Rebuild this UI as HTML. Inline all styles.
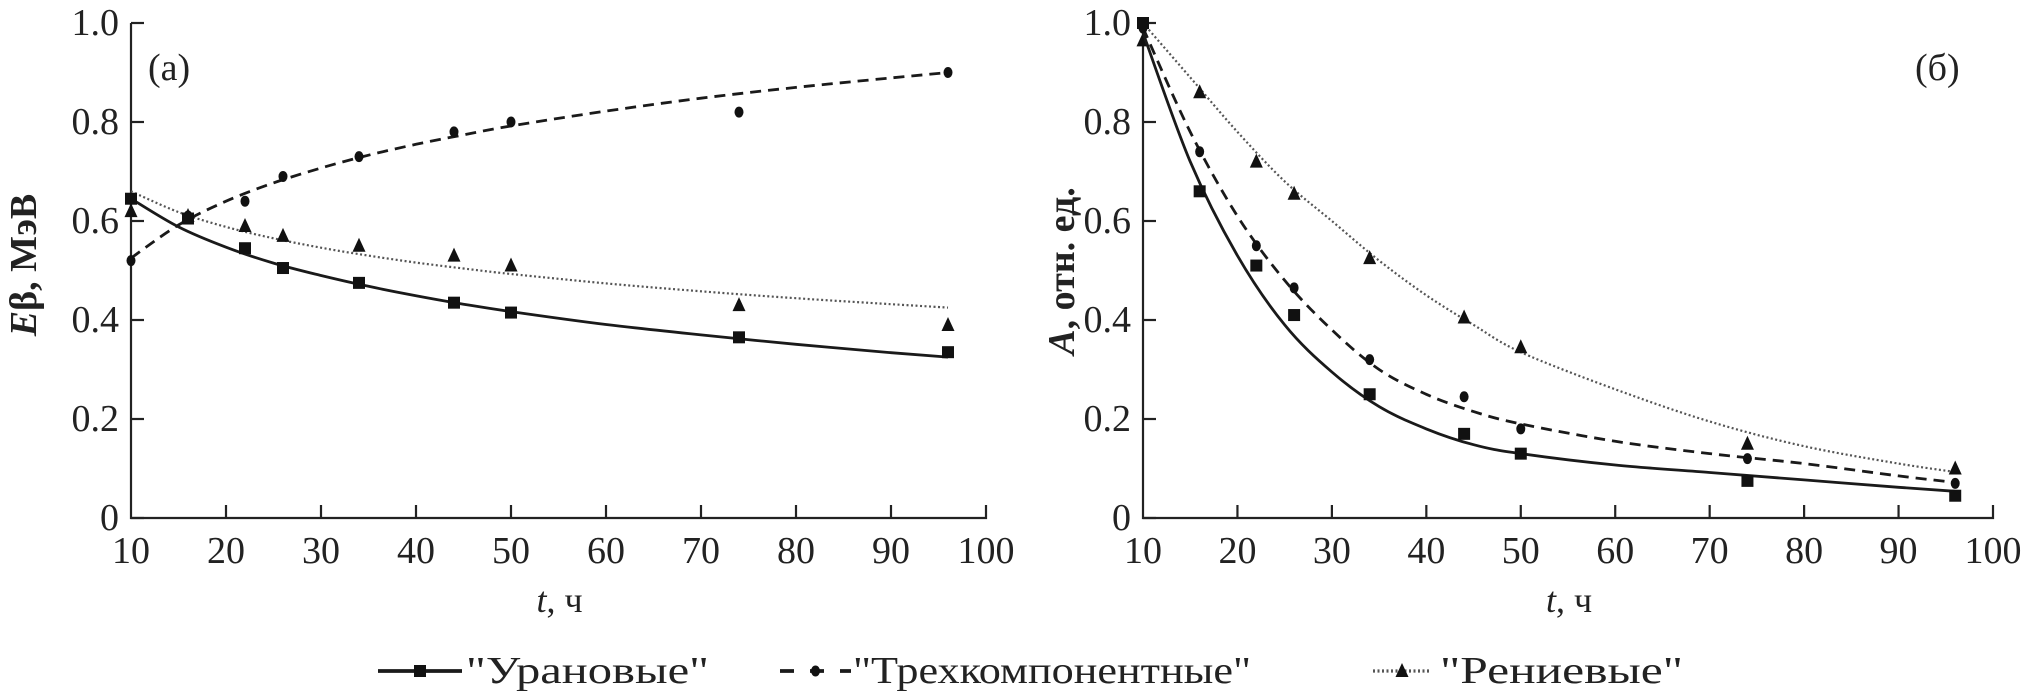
<!DOCTYPE html>
<html><head><meta charset="utf-8">
<style>
html,body{margin:0;padding:0;background:#fff;}
svg{display:block;font-family:"Liberation Serif","DejaVu Serif",serif;}
</style></head>
<body>
<svg id="chart" width="2022" height="696" viewBox="0 0 2022 696" xmlns="http://www.w3.org/2000/svg">
  <g id="panelA"></g>
  <g id="panelB"></g>
  <g id="legend"></g>
</svg>
<script>
const timesH = [10, 16, 22, 26, 34, 44, 50, 74, 96];
const xTicks = [10, 20, 30, 40, 50, 60, 70, 80, 90, 100];
const yTicks = [0, 0.2, 0.4, 0.6, 0.8, 1.0];
const yTickLabels = ["0", "0.2", "0.4", "0.6", "0.8", "1.0"];
// Panel (a) Eβ, MeV
const energyUranium = [0.645, 0.605, 0.545, 0.505, 0.475, 0.435, 0.415, 0.365, 0.335];
const energyTri = [0.52, 0.61, 0.64, 0.69, 0.73, 0.78, 0.80, 0.82, 0.90];
const energyRhenium = [0.62, 0.61, 0.59, 0.57, 0.55, 0.53, 0.51, 0.43, 0.39];
// fitted trend curves
const fitGrid = [10, 15, 20, 25, 30, 35, 40, 45, 50, 60, 70, 80, 90, 96];
const energyFitUranium = [0.645, 0.588, 0.547, 0.515, 0.490, 0.468, 0.449, 0.432, 0.417, 0.391, 0.370, 0.351, 0.334, 0.325];
const energyFitTri = [0.525, 0.592, 0.640, 0.677, 0.707, 0.733, 0.755, 0.774, 0.792, 0.822, 0.848, 0.870, 0.889, 0.900];
const energyFitRhenium = [0.66, 0.618, 0.588, 0.565, 0.546, 0.530, 0.516, 0.504, 0.493, 0.474, 0.458, 0.444, 0.432, 0.425];
// Panel (б) A, rel. units
const actUranium = [1.0, 0.66, 0.51, 0.41, 0.25, 0.17, 0.13, 0.075, 0.045];
const actTri = [0.99, 0.74, 0.55, 0.465, 0.32, 0.245, 0.18, 0.12, 0.07];
const actRhenium = [0.965, 0.86, 0.72, 0.655, 0.525, 0.405, 0.345, 0.15, 0.10];
const actFitUranium = [0.98, 0.72, 0.53, 0.39, 0.295, 0.225, 0.18, 0.148, 0.13, 0.107, 0.092, 0.077, 0.062, 0.054];
const actFitTri = [0.99, 0.78, 0.61, 0.48, 0.38, 0.30, 0.25, 0.215, 0.19, 0.155, 0.13, 0.11, 0.085, 0.072];
const actFitRhenium = [1.0, 0.89, 0.78, 0.68, 0.60, 0.52, 0.45, 0.39, 0.335, 0.26, 0.195, 0.145, 0.11, 0.093];

const NS = "http://www.w3.org/2000/svg";
function mk(parent, tag, attrs, text) {
  const e = document.createElementNS(NS, tag);
  for (const k in attrs) e.setAttribute(k, attrs[k]);
  if (text !== undefined) e.textContent = text;
  parent.appendChild(e);
  return e;
}
function smoothPath(pts) {
  let d = "M" + pts[0][0].toFixed(1) + "," + pts[0][1].toFixed(1);
  for (let i = 0; i < pts.length - 1; i++) {
    const p0 = pts[Math.max(0, i - 1)], p1 = pts[i], p2 = pts[i + 1], p3 = pts[Math.min(pts.length - 1, i + 2)];
    const c1 = [p1[0] + (p2[0] - p0[0]) / 6, p1[1] + (p2[1] - p0[1]) / 6];
    const c2 = [p2[0] - (p3[0] - p1[0]) / 6, p2[1] - (p3[1] - p1[1]) / 6];
    d += " C" + c1[0].toFixed(1) + "," + c1[1].toFixed(1) + " " + c2[0].toFixed(1) + "," + c2[1].toFixed(1) + " " + p2[0].toFixed(1) + "," + p2[1].toFixed(1);
  }
  return d;
}
const styles = {
  uranium: {stroke: "#1a1a1a", width: 2.8, dash: null, marker: "square"},
  tri: {stroke: "#1a1a1a", width: 2.8, dash: "11,7", marker: "circle"},
  rhenium: {stroke: "#555", width: 2.2, dash: "2,2.5", marker: "triangle"}
};
function drawMarker(g, type, x, y) {
  let m;
  if (type === "square") m = mk(g, "rect", {x: x - 6, y: y - 6, width: 12, height: 12, fill: "#111"});
  else if (type === "circle") m = mk(g, "ellipse", {cx: x, cy: y, rx: 4.5, ry: 5.5, fill: "#111"});
  else m = mk(g, "polygon", {points: `${x},${y - 8} ${x - 6.5},${y + 6} ${x + 6.5},${y + 6}`, fill: "#111"});
  return m;
}
function panel(g, x0, x1, cfg) {
  const yTop = 23, yBot = 518;
  const sx = v => x0 + (v - 10) / 90 * (x1 - x0);
  const sy = v => yBot - v * (yBot - yTop);
  const ax = mk(g, "path", {d: `M${x0},${yTop} V${yBot} H${x1} V${yBot - 13}`, fill: "none", stroke: "#222", "stroke-width": 2.2});
  
  
  yTicks.forEach((v, i) => {
    const t = mk(g, "line", {x1: x0, x2: x0 + 13, y1: sy(v), y2: sy(v), stroke: "#222", "stroke-width": 2.2});
    
    
    const l = mk(g, "text", {x: x0 - 12, y: sy(v) + 12, "text-anchor": "end", "font-size": 38, fill: "#222"}, yTickLabels[i]);
    
    
  });
  xTicks.forEach(v => {
    if (v > 10 && v < 100) {
      const t = mk(g, "line", {x1: sx(v), x2: sx(v), y1: yBot, y2: yBot - 13, stroke: "#222", "stroke-width": 2.2});
      
      
    }
    const l = mk(g, "text", {x: sx(v), y: 563, "text-anchor": "middle", "font-size": 38, fill: "#222"}, String(v));
    
    
  });
  const xt = mk(g, "text", {x: (x0 + x1) / 2 + 1, y: 612, "text-anchor": "middle", "font-size": 36, fill: "#222"});
  
  
  mk(xt, "tspan", {"font-style": "italic"}, "t");
  mk(xt, "tspan", {}, ", ч");
  const yt = mk(g, "text", {x: 0, y: 0, "text-anchor": "middle", "font-size": 38, fill: "#222", transform: `translate(${cfg.ytx},${cfg.yty}) rotate(-90)`});
  
  
  mk(yt, "tspan", {"font-style": "italic", "font-weight": "bold"}, cfg.yItalic);
  mk(yt, "tspan", {"font-weight": "bold"}, cfg.yRest);
  const pl = mk(g, "text", {x: cfg.plx, y: 80, "font-size": 38, fill: "#222"}, cfg.label);
  
  
  cfg.series.forEach(s => {
    const st = styles[s.key];
    const pts = fitGrid.map((t, i) => [sx(t), sy(s.fit[i])]);
    const p = mk(g, "path", {d: smoothPath(pts), fill: "none", stroke: st.stroke, "stroke-width": st.width});
    if (st.dash) p.setAttribute("stroke-dasharray", st.dash);
    
    
    timesH.forEach((t, i) => {
      const m = drawMarker(g, st.marker, sx(t), sy(s.vals[i]));
      
      
    });
  });
}
panel(document.getElementById("panelA"), 131, 986, {
  ytx: 36, yty: 265, yItalic: "E", yRest: "β, МэВ", plx: 148, label: "(a)",
  series: [
    {key: "rhenium", vals: energyRhenium, fit: energyFitRhenium},
    {key: "tri", vals: energyTri, fit: energyFitTri},
    {key: "uranium", vals: energyUranium, fit: energyFitUranium}
  ]
});
panel(document.getElementById("panelB"), 1143, 1993, {
  ytx: 1074, yty: 271, yItalic: "A", yRest: ", отн. ед.", plx: 1915, label: "(б)",
  series: [
    {key: "rhenium", vals: actRhenium, fit: actFitRhenium},
    {key: "tri", vals: actTri, fit: actFitTri},
    {key: "uranium", vals: actUranium, fit: actFitUranium}
  ]
});
// legend
const legendNames = ["\"Урановые\"", "\"Трехкомпонентные\"", "\"Рениевые\""];
const legendKeys = ["uranium", "tri", "rhenium"];
const lg = document.getElementById("legend");
const legX = [[378, 462, 466, 243], [780, 851, 853, 398], [1373, 1431, 1440, 243]];
legendKeys.forEach((k, i) => {
  const st = styles[k];
  const g = mk(lg, "g", {});
  
  
  const [a, b, tx, tw] = legX[i];
  const ln = mk(g, "line", {x1: a, x2: b, y1: 671, y2: 671, stroke: st.stroke, "stroke-width": st.width + 1});
  if (st.dash) ln.setAttribute("stroke-dasharray", k === "tri" ? "14,16" : "2,2.5");
  drawMarker(g, st.marker, (a + b) / 2, 671);
  mk(g, "text", {x: tx, y: 683, "font-size": 38, fill: "#222", textLength: tw, lengthAdjust: "spacingAndGlyphs"}, legendNames[i]);
});
</script>
</body></html>
